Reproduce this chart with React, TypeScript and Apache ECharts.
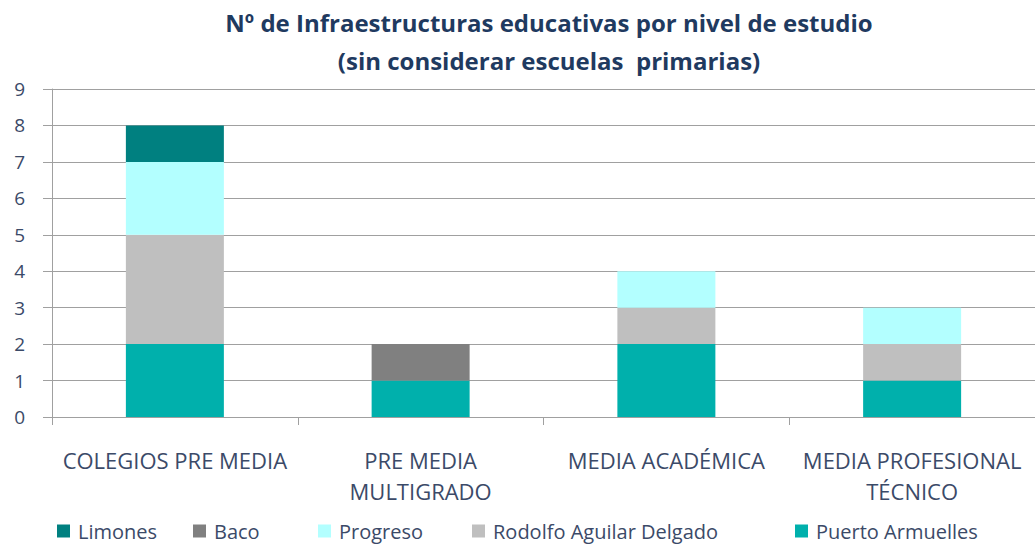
import React, { useEffect, useRef } from "react";
import * as echarts from "echarts";

const categories = ["COLEGIOS PRE MEDIA", "PRE MEDIA\nMULTIGRADO", "MEDIA ACADÉMICA", "MEDIA PROFESIONAL\nTÉCNICO"];
const puertoArmuelles = [2, 1, 2, 1];
const rodolfoAguilar = [3, 0, 1, 1];
const progreso = [2, 0, 1, 1];
const baco = [0, 1, 0, 0];
const limones = [1, 0, 0, 0];
const yTicks = [0, 1, 2, 3, 4, 5, 6, 7, 8, 9];

const FONT = "Open Sans";
const TXT = "#3B4A68";

export default function App() {
  const ref = useRef<HTMLDivElement>(null);
  useEffect(() => {
    const chart = echarts.init(ref.current!, null, { renderer: "svg" });
    const seriesDefs = [
      { name: "Puerto Armuelles", data: puertoArmuelles, color: "#00B0AC" },
      { name: "Rodolfo Aguilar Delgado", data: rodolfoAguilar, color: "#BFBFBF" },
      { name: "Progreso", data: progreso, color: "#B3FFFF" },
      { name: "Baco", data: baco, color: "#808080" },
      { name: "Limones", data: limones, color: "#008080" },
    ];
    const legendPos: [string, number][] = [
      ["Limones", 57],
      ["Baco", 193],
      ["Progreso", 318],
      ["Rodolfo Aguilar Delgado", 472],
      ["Puerto Armuelles", 795],
    ];
    chart.setOption({
      animation: false,
      title: {
        text: "Nº de Infraestructuras educativas por nivel de estudio\n(sin considerar escuelas  primarias)",
        left: 549,
        textAlign: "center",
        top: 3,
        padding: 0,
        textStyle: { fontFamily: FONT, fontSize: 24, fontWeight: "bold", color: "#1F3A60", lineHeight: 38 },
      },
      legend: legendPos.map(([name, x]) => ({
        data: [name],
        left: x,
        top: 521,
        itemWidth: 13,
        itemHeight: 13,
        itemGap: 0,
        icon: "rect",
        textStyle: { fontFamily: FONT, fontSize: 20, color: TXT, lineHeight: 20, padding: [0, 0, 0, 3] },
        padding: 0,
      })),
      grid: { left: 52, top: 89, width: 990, height: 328 },
      xAxis: {
        type: "category",
        data: categories,
        axisLine: { lineStyle: { color: "#A0A0A0", width: 1 } },
        axisTick: { show: true, length: 8, alignWithLabel: false, lineStyle: { color: "#A0A0A0" } },
        axisLabel: { interval: 0, margin: 27, fontFamily: FONT, fontSize: 22, color: TXT, lineHeight: 31 },
      },
      yAxis: {
        type: "value",
        min: 0,
        max: 9,
        interval: 1,
        axisLine: { show: true, lineStyle: { color: "#A0A0A0", width: 1 } },
        axisTick: { show: true, length: 9, lineStyle: { color: "#A0A0A0" } },
        splitLine: { lineStyle: { color: "#A0A0A0", width: 1 } },
        axisLabel: {
          margin: 27,
          fontFamily: FONT,
          fontSize: 19,
          color: TXT,
          formatter: (v: number) => (yTicks.includes(v) ? String(v) : ""),
        },
      },
      series: seriesDefs.map((s) => ({
        name: s.name,
        type: "bar",
        stack: "total",
        barWidth: 98,
        data: s.data,
        itemStyle: { color: s.color },
      })),
    });
    return () => chart.dispose();
  }, []);
  return <div ref={ref} style={{ width: 1035, height: 548, position: "absolute", left: 0, top: 0 }} />;
}
